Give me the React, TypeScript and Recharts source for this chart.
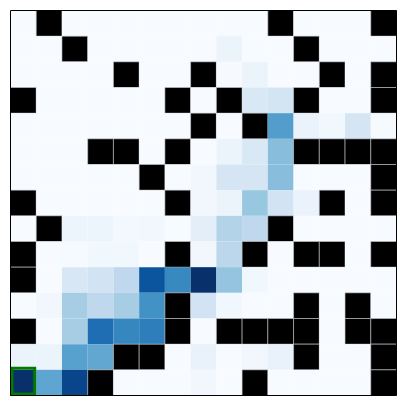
import React from 'react';
import { ScatterChart, Scatter, XAxis, YAxis, ReferenceArea } from 'recharts';

// null = wall (black cell); numbers = normalized value (Blues colormap)
const W = null;
const row00 = [0, W, 0, 0, 0, 0, 0, 0, 0, 0, W, 0, 0, 0, W];
const row01 = [0, 0, W, 0, 0, 0, 0, 0, 0.06, 0, 0, W, 0, 0, 0];
const row02 = [0, 0, 0, 0, W, 0, 0, W, 0.005, 0.06, 0, 0, W, 0, W];
const row03 = [W, 0, 0, 0, 0, 0, W, 0, W, 0.15, 0.18, W, 0, 0, W];
const row04 = [0, 0, 0, 0, 0, 0, 0, W, 0, W, 0.575, 0.065, 0.035, 0.17, 0.01];
const row05 = [0, 0, 0, W, W, 0, W, 0, 0.055, 0.15, 0.43, W, W, W, W];
const row06 = [0, 0, 0, 0, 0, W, 0, 0.03, 0.17, 0.17, 0.43, 0, 0, 0, W];
const row07 = [W, 0, 0, 0, 0, 0, W, 0.03, 0.06, 0.39, 0.19, 0.065, W, 0, W];
const row08 = [0, W, 0.05, 0.05, 0.02, 0.03, 0, 0.1, 0.31, 0.27, W, 0, 0, 0, 0];
const row09 = [W, 0, 0.01, 0.035, 0.035, 0, W, 0.03, 0.28, W, 0, W, W, 0, W];
const row10 = [W, 0, 0.16, 0.19, 0.27, 0.86, 0.66, 1.0, 0.4, 0.035, 0, 0, 0, 0, 0];
const row11 = [0, 0.03, 0.35, 0.27, 0.35, 0.625, W, 0.19, 0.035, 0, 0, W, 0, W, 0];
const row12 = [W, 0, 0.35, 0.76, 0.67, 0.7, W, 0, W, W, W, W, 0, W, W];
const row13 = [0.06, 0.06, 0.56, 0.53, W, W, 0, 0.07, 0, 0.03, 0.07, W, 0, 0, W];
const row14 = [1.0, 0.54, 0.92, W, 0, 0, 0, 0.03, 0, W, 0, 0, 0, 0, W];

const ROWS = [row00, row01, row02, row03, row04, row05, row06, row07, row08, row09, row10, row11, row12, row13, row14];
const START = { x: 0, y: 14 };

const BLUES = ['#f7fbff', '#deebf7', '#c6dbef', '#9ecae1', '#6baed6', '#4292c6', '#2171b5', '#08519c', '#08306b'];

function hexToRgb(h: string) {
  return [parseInt(h.slice(1, 3), 16), parseInt(h.slice(3, 5), 16), parseInt(h.slice(5, 7), 16)];
}
function blues(t: number) {
  const v = Math.max(0, Math.min(1, t)) * (BLUES.length - 1);
  const i = Math.min(Math.floor(v), BLUES.length - 2);
  const f = v - i;
  const a = hexToRgb(BLUES[i]);
  const b = hexToRgb(BLUES[i + 1]);
  const c = a.map((av, k) => Math.round(av + (b[k] - av) * f));
  return `rgb(${c[0]},${c[1]},${c[2]})`;
}

const cells = ROWS.flatMap((row, r) => row.map((v, c) => ({ x: c, y: r, v })));

export default function App() {
  return (
    <div style={{ margin: -8, width: 405, height: 405, background: '#fff' }}>
      <ScatterChart width={405} height={405} margin={{ top: 10.5, right: 8.5, bottom: 9.5, left: 10.5 }}>
        <XAxis type="number" dataKey="x" domain={[-0.5, 14.5]} hide allowDataOverflow />
        <YAxis type="number" dataKey="y" domain={[-0.5, 14.5]} hide reversed allowDataOverflow />
        {cells.map((c) => (
          <ReferenceArea
            key={`c${c.x}-${c.y}`}
            x1={c.x - 0.5}
            x2={c.x + 0.5}
            y1={c.y - 0.5}
            y2={c.y + 0.5}
            fill={c.v === null ? '#000' : blues(c.v)}
            fillOpacity={1}
            stroke={c.v === null ? '#c4c8cc' : 'none'}
            strokeWidth={0.6}
            ifOverflow="visible"
          />
        ))}
        <Scatter data={cells} isAnimationActive={false} shape={() => <g />} />
        <ReferenceArea
          x1={START.x - 0.44}
          x2={START.x + 0.44}
          y1={START.y - 0.56}
          y2={START.y + 0.44}
          fill="none"
          fillOpacity={0}
          stroke="#007a00"
          strokeWidth={3}
          ifOverflow="visible"
        />
        <ReferenceArea
          x1={-0.5}
          x2={14.5}
          y1={-0.5}
          y2={14.5}
          fill="none"
          fillOpacity={0}
          stroke="#000"
          strokeWidth={1}
          ifOverflow="visible"
        />
      </ScatterChart>
    </div>
  );
}
